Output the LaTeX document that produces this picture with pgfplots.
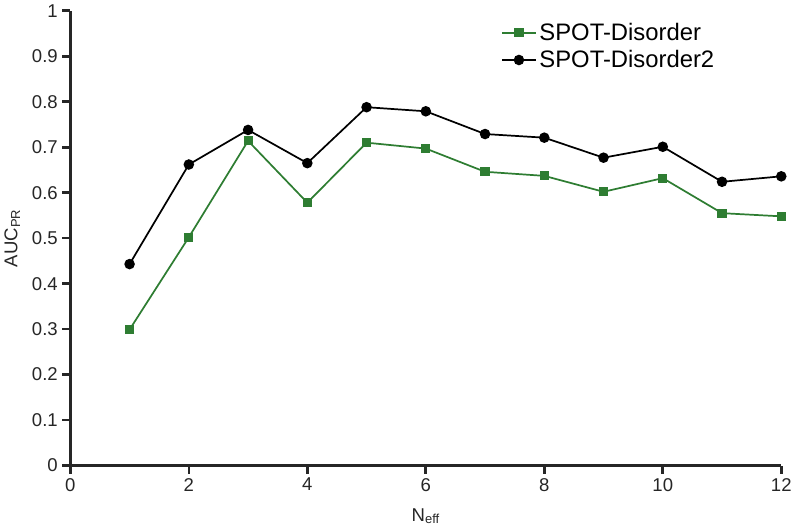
\documentclass[border=0pt]{standalone}
\usepackage{pgfplots}
\pgfplotsset{compat=1.18}
\usepackage{fontspec}
\setmainfont{Liberation Sans}
\definecolor{sgreen}{RGB}{46,125,50}
\begin{document}
\begin{tikzpicture}
\begin{axis}[
  name=ax,
  scale only axis,
  width=537pt, height=343.5pt,
  xmin=0, xmax=12, ymin=0, ymax=1,
  axis x line=bottom, axis y line=left,
  axis line style={-, line width=2pt, color=black!85},
  xtick={0,2,...,12},
  ytick={0,0.1,...,1},
  tick align=outside,
  major tick length=6pt,
  tick style={line width=2pt, color=black!85},
  /pgf/number format/assume math mode=true,
  ticklabel style={font=\fontsize{14}{16}\selectfont, color=black!85},
  xlabel={N\textsubscript{eff}},
  ylabel={AUC\textsubscript{PR}},
  xlabel style={yshift=-6pt},
  ylabel style={yshift=2pt},
  label style={font=\fontsize{14}{16}\selectfont, color=black!85},
  legend style={at={(0.6,0.985)}, anchor=north west, draw=none, fill=none,
    font=\fontsize{18}{21}\selectfont, row sep=2pt},
  legend cell align=left,
  legend image code/.code={\draw[mark repeat=2,mark phase=2,#1] plot coordinates {(0cm,0cm) (0.45cm,0cm) (0.9cm,0cm)};},
]
\addplot[sgreen, line width=1.3pt, mark=square*, mark size=2.8pt, mark options={fill=sgreen}]
coordinates {(1,0.299) (2,0.502) (3,0.714) (4,0.578) (5,0.710) (6,0.697) (7,0.646) (8,0.637) (9,0.602) (10,0.632) (11,0.555) (12,0.548)};
\addlegendentry{SPOT-Disorder}
\addplot[black, line width=1.3pt, mark=*, mark size=3.3pt]
coordinates {(1,0.443) (2,0.662) (3,0.738) (4,0.665) (5,0.788) (6,0.779) (7,0.729) (8,0.721) (9,0.677) (10,0.701) (11,0.624) (12,0.636)};
\addlegendentry{SPOT-Disorder2}
\end{axis}
\path (ax.south west) ++(-52.5pt,-48pt) coordinate (bl);
\path (ax.north east) ++(7.5pt,5.25pt) coordinate (tr);
\useasboundingbox (bl) rectangle (tr);
\end{tikzpicture}
\end{document}
